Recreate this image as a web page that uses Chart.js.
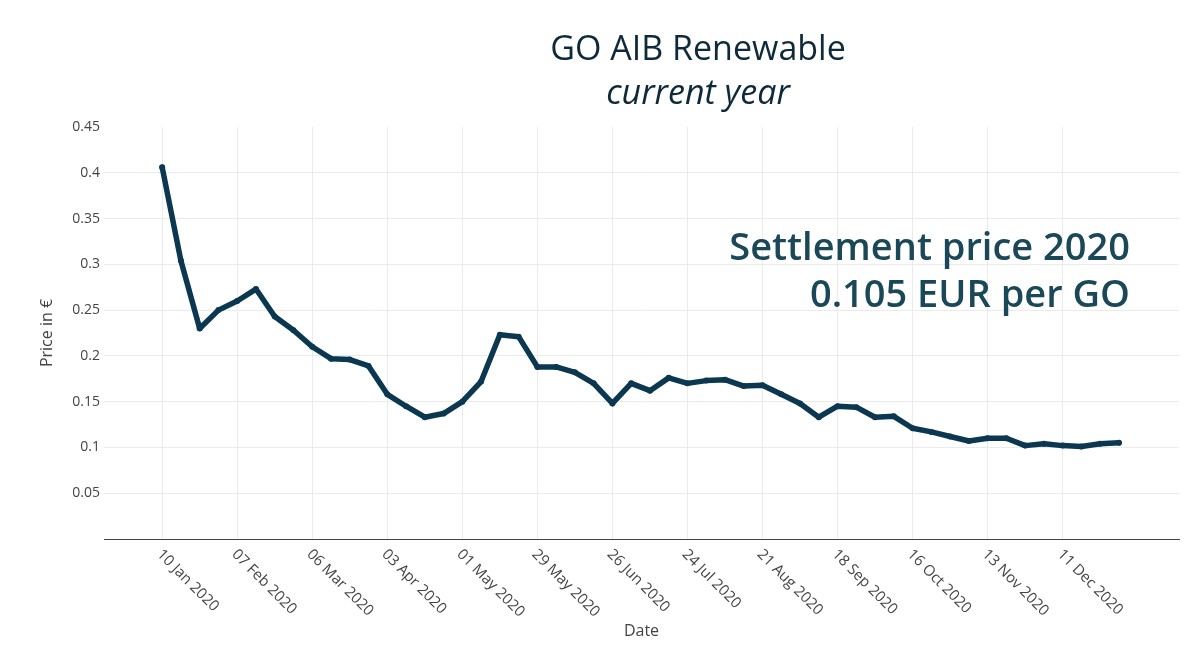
<!DOCTYPE html>
<html>
<head>
<meta charset="utf-8">
<script src="https://cdn.jsdelivr.net/npm/chart.js@4/dist/chart.umd.min.js"></script>
<style>
  html, body { margin: 0; padding: 0; background: #fff; }
  #wrap { width: 1200px; height: 645px; }
</style>
</head>
<body>
<div id="wrap"><canvas id="go-price"></canvas></div>
<script>
const dates = [
    '10 Jan 2020', '17 Jan 2020', '24 Jan 2020', '31 Jan 2020', '07 Feb 2020', '14 Feb 2020', '21 Feb 2020', '28 Feb 2020',
    '06 Mar 2020', '13 Mar 2020', '20 Mar 2020', '27 Mar 2020', '03 Apr 2020', '10 Apr 2020', '17 Apr 2020', '24 Apr 2020',
    '01 May 2020', '08 May 2020', '15 May 2020', '22 May 2020', '29 May 2020', '05 Jun 2020', '12 Jun 2020', '19 Jun 2020',
    '26 Jun 2020', '03 Jul 2020', '10 Jul 2020', '17 Jul 2020', '24 Jul 2020', '31 Jul 2020', '07 Aug 2020', '14 Aug 2020',
    '21 Aug 2020', '28 Aug 2020', '04 Sep 2020', '11 Sep 2020', '18 Sep 2020', '25 Sep 2020', '02 Oct 2020', '09 Oct 2020',
    '16 Oct 2020', '23 Oct 2020', '30 Oct 2020', '06 Nov 2020', '13 Nov 2020', '20 Nov 2020', '27 Nov 2020', '04 Dec 2020',
    '11 Dec 2020', '18 Dec 2020', '25 Dec 2020', '01 Jan 2021'
];
const prices = [
    0.406, 0.304, 0.230, 0.250, 0.260, 0.273, 0.243, 0.228,
    0.210, 0.197, 0.196, 0.189, 0.158, 0.145, 0.133, 0.137,
    0.150, 0.172, 0.223, 0.221, 0.188, 0.188, 0.182, 0.170,
    0.148, 0.170, 0.162, 0.176, 0.170, 0.173, 0.174, 0.167,
    0.168, 0.158, 0.148, 0.133, 0.145, 0.144, 0.133, 0.134,
    0.121, 0.117, 0.112, 0.107, 0.110, 0.110, 0.102, 0.104,
    0.102, 0.101, 0.104, 0.105
];
const tickLabels = ['10 Jan 2020', '07 Feb 2020', '06 Mar 2020', '03 Apr 2020', '01 May 2020', '29 May 2020', '26 Jun 2020',
    '24 Jul 2020', '21 Aug 2020', '18 Sep 2020', '16 Oct 2020', '13 Nov 2020', '11 Dec 2020'];
const yTicks = [0.05, 0.1, 0.15, 0.2, 0.25, 0.3, 0.35, 0.4, 0.45];

const titleText = 'GO AIB Renewable';
const subtitleText = 'current year';
const noteLines = ['Settlement price 2020', '0.105 EUR per GO'];

const lineColor = '#0b3850';
const tickPos = tickLabels.map(l => dates.indexOf(l));

// titles, rotated date labels and the settlement note
const textPlugin = {
    id: 'texts',
    afterDraw(chart) {
        const ctx = chart.ctx;
        const xs = chart.scales.x;
        const area = chart.chartArea;
        ctx.save();
        ctx.fillStyle = '#0e2a3a';
        ctx.textAlign = 'center';
        ctx.textBaseline = 'alphabetic';
        ctx.font = '34px "Open Sans"';
        ctx.fillText(titleText, 698, 60);
        ctx.font = 'italic 34px "Open Sans"';
        ctx.fillText(subtitleText, 698, 104);

        ctx.fillStyle = '#1b4859';
        ctx.textAlign = 'right';
        ctx.font = '600 38px "Open Sans"';
        ctx.fillText(noteLines[0], 1130, 260);
        ctx.fillText(noteLines[1], 1130, 307);

        ctx.fillStyle = '#444';
        ctx.font = '15px "Open Sans"';
        ctx.textAlign = 'left';
        ctx.textBaseline = 'middle';
        tickPos.forEach((w, k) => {
            const px = xs.getPixelForValue(w);
            ctx.save();
            ctx.translate(px - 3, area.bottom + 13);
            ctx.rotate(Math.PI / 4);
            ctx.fillText(tickLabels[k], 0, 0);
            ctx.restore();
        });

        ctx.font = '16px "Open Sans"';
        ctx.textAlign = 'center';
        ctx.fillText('Date', (area.left + area.right) / 2, 631);
        ctx.save();
        ctx.translate(47, (area.top + area.bottom) / 2);
        ctx.rotate(-Math.PI / 2);
        ctx.fillText('Price in €', 0, 0);
        ctx.restore();
        ctx.restore();
    }
};

const ctx = document.getElementById('go-price').getContext('2d');
const chartPrice = new Chart(ctx, {
    type: 'line',
    data: {
        datasets: [{
            label: 'GO AIB Renewable',
            data: prices.map((v, i) => ({ x: i, y: v })),
            borderColor: lineColor,
            backgroundColor: lineColor,
            borderWidth: 5.5,
            borderJoinStyle: 'round',
            borderCapStyle: 'round',
            pointRadius: 3,
            pointBorderWidth: 0,
            tension: 0
        }]
    },
    options: {
        responsive: true,
        maintainAspectRatio: false,
        animation: false,
        layout: { padding: { top: 127, right: 21, left: 0, bottom: 0 } },
        plugins: {
            legend: { display: false },
            tooltip: { enabled: false }
        },
        scales: {
            x: {
                type: 'linear',
                min: -3.1,
                max: 54.2,
                afterBuildTicks: scale => { scale.ticks = tickPos.map(v => ({ value: v })); },
                afterFit: scale => { scale.height = 106; },
                ticks: { display: false },
                grid: { color: '#ebebeb', lineWidth: 1, drawTicks: false },
                border: { display: true, color: '#444', width: 1 }
            },
            y: {
                min: 0,
                max: 0.45,
                afterBuildTicks: scale => { scale.ticks = [0].concat(yTicks).map(v => ({ value: v })); },
                afterFit: scale => { scale.width = 104; },
                ticks: {
                    color: '#444',
                    font: { family: 'Open Sans', size: 14 },
                    padding: 4,
                    callback: v => v === 0 ? '' : String(v)
                },
                grid: {
                    color: c => (c.tick && c.tick.value >= 0.449) ? 'rgba(0,0,0,0)' : '#ebebeb',
                    drawTicks: false
                },
                border: { display: false }
            }
        }
    },
    plugins: [textPlugin]
});
</script>
</body>
</html>
